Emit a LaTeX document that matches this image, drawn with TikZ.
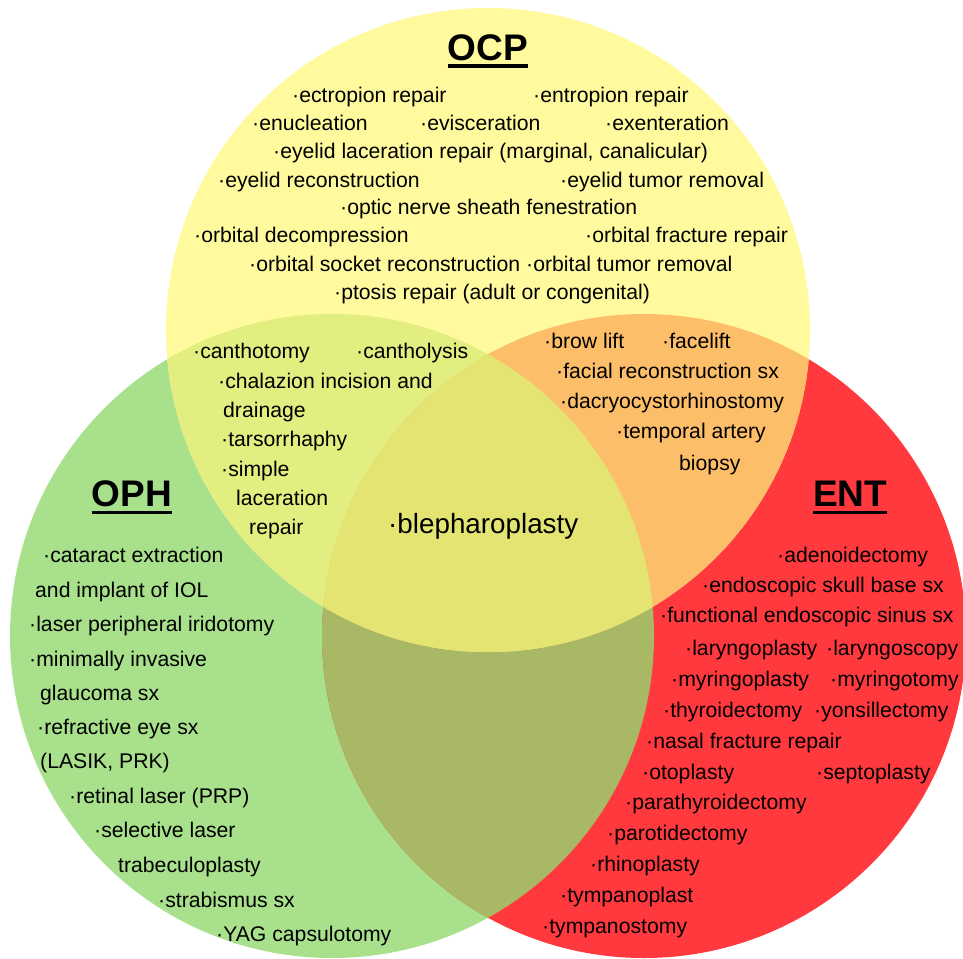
\documentclass[tikz,border=0pt]{standalone}
\usepackage{fontspec}
\setmainfont{Liberation Sans}
\usepackage{tikz}
\usetikzlibrary{positioning}

\definecolor{ocpyellow}{HTML}{FFFA9E}
\definecolor{ophgreen}{HTML}{A8E08C}
\definecolor{entred}{HTML}{FF393D}
\definecolor{ocpoph}{HTML}{E2EE80}
\definecolor{ocpent}{HTML}{FDBE69}
\definecolor{ophent}{HTML}{A8B865}
\definecolor{allthree}{HTML}{E3E472}

\begin{document}
\begin{tikzpicture}[x=1pt,y=-1pt,
	item/.style={anchor=west,inner sep=0pt,text height=15pt,text depth=4pt,
		font=\fontsize{21.2}{25}\selectfont},
	big item/.style={item,text height=19pt,text depth=5pt,
		font=\fontsize{27.8}{32}\selectfont},
	title/.style={inner sep=0pt,text height=27pt,text depth=0pt,
		font=\fontsize{37}{44}\selectfont\bfseries},
	uline/.style={line width=3pt}]
	
	\useasboundingbox (0,0) rectangle (963,958);
	\coordinate (ocpc) at (488,330);
	\coordinate (ophc) at (332,636);
	\coordinate (entc) at (644,636);
	
	\fill[ophgreen] (ophc) circle (322);
	\fill[entred] (entc) circle (322);
	\begin{scope}
		\clip (ophc) circle (322);
		\fill[ophent] (entc) circle (322);
	\end{scope}
	\fill[ocpyellow] (ocpc) circle (322);
	\begin{scope}
		\clip (ocpc) circle (322);
		\fill[ocpoph] (ophc) circle (322);
		\fill[ocpent] (entc) circle (322);
		\clip (ophc) circle (322);
		\fill[allthree] (entc) circle (322);
	\end{scope}
	
	\node[title] (ocp) at (488,60) [anchor=base] {OCP};
	\node[title] (oph) at (132,506) [anchor=base] {OPH};
	\node[title] (ent) at (850,506) [anchor=base] {ENT};
	\draw[uline] ([yshift=-6pt]ocp.base west) -- ([yshift=-6pt]ocp.base east);
	\draw[uline] ([yshift=-6pt]oph.base west) -- ([yshift=-6pt]oph.base east);
	\draw[uline] ([yshift=-6pt]ent.base west) -- ([yshift=-6pt]ent.base east);
	
	\node[item] (ectropion) at (292,97) {·ectropion repair};
	\node[item] (entropion) at (533,97) {·entropion repair};
	\node[item] (enucleation) at (252,125) {·enucleation};
	\node[item] (evisceration) at (420,125) {·evisceration};
	\node[item] (exenteration) at (605,125) {·exenteration};
	\node[item] (laceration) at (273,153) {·eyelid laceration repair (marginal, canalicular)};
	\node[item] (reconstruction) at (218,182) {·eyelid reconstruction};
	\node[item] (tumor) at (560,182) {·eyelid tumor removal};
	\node[item] (optic) at (340,209) {·optic nerve sheath fenestration};
	\node[item] (decompression) at (194,237) {·orbital decompression};
	\node[item] (fracture) at (585,237) {·orbital fracture repair};
	\node[item] (socket) at (249,266) {·orbital socket reconstruction};
	\node[item] (orbtumor) at (526,266) {·orbital tumor removal};
	\node[item] (ptosis) at (334,294) {·ptosis repair (adult or congenital)};
	
	\node[item] (canthotomy) at (193,353) {·canthotomy};
	\node[item] (cantholysis) at (356,353) {·cantholysis};
	\node[item] (chalazion) at (218,383) {·chalazion incision and};
	\node[item] (drainage) at (223,412) {drainage};
	\node[item] (tarsorrhaphy) at (221,441) {·tarsorrhaphy};
	\node[item] (simple) at (221,471) {·simple};
	\node[item] (simple2) at (236,500) {laceration};
	\node[item] (simple3) at (249,529) {repair};
	
	\node[big item] (blepharoplasty) at (388,526) {·blepharoplasty};
	
	\node[item] (browlift) at (544,343) {·brow lift};
	\node[item] (facelift) at (662,343) {·facelift};
	\node[item] (facial) at (556,373) {·facial reconstruction sx};
	\node[item] (dacryo) at (560,403) {·dacryocystorhinostomy};
	\node[item] (temporal) at (616,433) {·temporal artery};
	\node[item] (biopsy) at (679,465) {biopsy};
	
	\node[item] (cataract) at (43,557) {·cataract extraction};
	\node[item] (cataract2) at (35,592) {and implant of IOL};
	\node[item] (iridotomy) at (29,626) {·laser peripheral iridotomy};
	\node[item] (migs) at (29,661) {·minimally invasive};
	\node[item] (migs2) at (40,695) {glaucoma sx};
	\node[item] (refractive) at (37,729) {·refractive eye sx};
	\node[item] (refractive2) at (40,763) {(LASIK, PRK)};
	\node[item] (retinal) at (69,798) {·retinal laser (PRP)};
	\node[item] (slt) at (94,832) {·selective laser};
	\node[item] (slt2) at (118,867) {trabeculoplasty};
	\node[item] (strabismus) at (158,902) {·strabismus sx};
	\node[item] (yag) at (216,936) {·YAG capsulotomy};
	
	\node[item] (adenoid) at (777,557) {·adenoidectomy};
	\node[item] (skullbase) at (702,587) {·endoscopic skull base sx};
	\node[item] (fess) at (660,617) {·functional endoscopic sinus sx};
	\node[item] (laryngoplasty) at (685,650) {·laryngoplasty};
	\node[item] (laryngoscopy) at (826,650) {·laryngoscopy};
	\node[item] (myringoplasty) at (671,681) {·myringoplasty};
	\node[item] (myringotomy) at (830,681) {·myringotomy};
	\node[item] (thyroid) at (663,712) {·thyroidectomy};
	\node[item] (tonsil) at (814,712) {·yonsillectomy};
	\node[item] (nasal) at (646,743) {·nasal fracture repair};
	\node[item] (otoplasty) at (642,774) {·otoplasty};
	\node[item] (septoplasty) at (816,774) {·septoplasty};
	\node[item] (parathyroid) at (625,804) {·parathyroidectomy};
	\node[item] (parotid) at (607,835) {·parotidectomy};
	\node[item] (rhinoplasty) at (590,866) {·rhinoplasty};
	\node[item] (tympanoplast) at (560,897) {·tympanoplast};
	\node[item] (tympanostomy) at (542,928) {·tympanostomy};
	\end{tikzpicture}
\end{document}
